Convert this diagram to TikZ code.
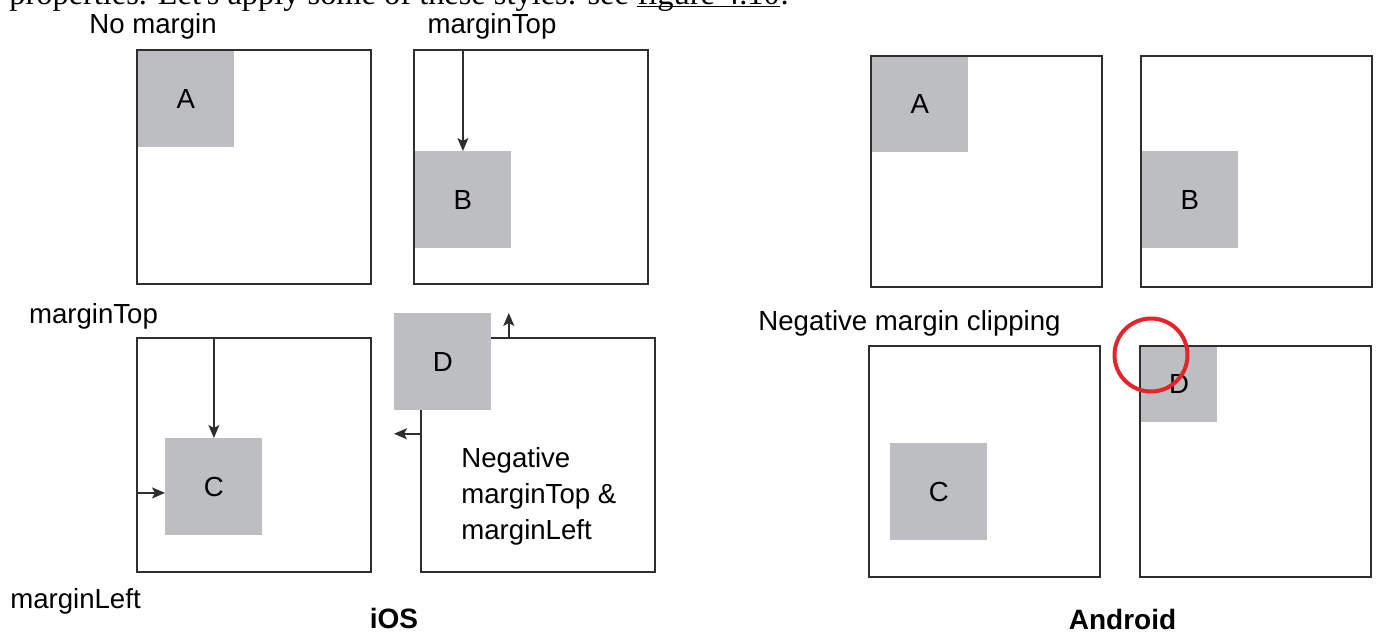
\documentclass[tikz,border=0pt]{standalone}
\usepackage{fontspec}
\setmainfont{Liberation Sans}
\newfontfamily\bookfont{Liberation Serif}
\usetikzlibrary{arrows.meta, positioning}
\definecolor{boxgray}{HTML}{BDBEC1}
\definecolor{framegray}{HTML}{2E2E2E}
\definecolor{clipred}{HTML}{E4232A}

\begin{document}
\begin{tikzpicture}[x=0.5pt, y=-0.5pt, font=\fontsize{13.8}{18}\selectfont,
    frame/.style={draw=framegray, line width=1pt, rectangle, minimum width=117pt, minimum height=117pt, inner sep=0pt},
    aframe/.style={frame, minimum width=115.5pt, minimum height=115.5pt},
    sq/.style={fill=boxgray, rectangle, minimum size=48.5pt, inner sep=0pt, anchor=north west},
    lbl/.style={inner sep=0pt, anchor=base},
    book/.style={lbl, anchor=base west, font=\bookfont\fontsize{16.2}{18}\selectfont},
    title/.style={lbl, font=\bfseries\fontsize{14}{16}\selectfont},
    arr/.style={-{Stealth[length=6.5pt, width=5.5pt, inset=1.5pt]}, line width=0.8pt, draw=framegray}]
    \useasboundingbox (0,0) rectangle (1378,632);

    % 上方被截断的正文
    \node[book] (para) at (9,4) {properties. Let's apply some of these styles: see};
    \node[book] (figref) at ([xshift=4pt]para.base east) {figure 4.10};
    \node[book] (dot) at (figref.base east) {.};
    \draw[line width=0.9pt] ([yshift=-1.2pt]figref.base west) -- ([yshift=-1.2pt]figref.base east);

    % iOS 方块
    \node[sq] (iosAsq) at (137,50) {A};
    \node[sq] (iosBsq) at (414,151) {B};
    \node[sq] (iosCsq) at (165,438) {C};
    \node[frame] (iosA) at (254,167) {};
    \node[frame] (iosB) at (531,167) {};
    \node[frame] (iosC) at (254,455) {};
    \node[frame] (iosD) at (537.5,455) {};
    \node[sq] (iosDsq) at (394,313) {D};

    % iOS 箭头
    \draw[arr] (iosBsq.north |- iosB.north) -- (iosBsq.north);
    \draw[arr] (iosCsq.north |- iosC.north) -- (iosCsq.north);
    \coordinate (cleft) at ([yshift=-3pt]iosCsq.west);
    \draw[arr] (cleft -| iosC.west) -- (cleft);
    \coordinate (dup) at ([xshift=8.5pt]iosDsq.north east);
    \draw[arr] (dup |- iosD.north) -- (dup);
    \coordinate (dleft) at ([yshift=-11.5pt]iosDsq.south west);
    \draw[arr] (dleft -| iosD.west) -- (dleft);
    \node[anchor=north west, inner sep=0pt, align=left] (negtxt) at (461,447.5) {Negative\\marginTop \&\\marginLeft};

    % Android 方块
    \node[sq] (andAsq) at (871,55) {A};
    \node[sq] (andBsq) at (1141,151) {B};
    \node[sq] (andCsq) at (890,443) {C};
    \node[sq, minimum size=37.75pt] (andDsq) at (1141,346) {D};
    \node[aframe] (andA) at (986,171) {};
    \node[aframe] (andB) at (1256,171) {};
    \node[aframe] (andC) at (984.5,461) {};
    \node[aframe] (andD) at (1255.5,461) {};
    \node[circle, draw=clipred, line width=2pt, minimum size=36.5pt, inner sep=0pt] (clipmark) at (1151,355) {};

    % 标签
    \node[lbl] (nomargin) at (153,33) {No margin};
    \node[lbl] (topB) at (492,33) {marginTop};
    \node[lbl] (topC) at (93.5,323) {marginTop};
    \node[lbl] (leftC) at (75.5,608) {marginLeft};
    \node[lbl, anchor=base west] (negclip) at (758,330) {Negative margin clipping};
    \node[title] (ios) at (394,628) {iOS};
    \node[title] (android) at (1122.5,629) {Android};
\end{tikzpicture}
\end{document}
